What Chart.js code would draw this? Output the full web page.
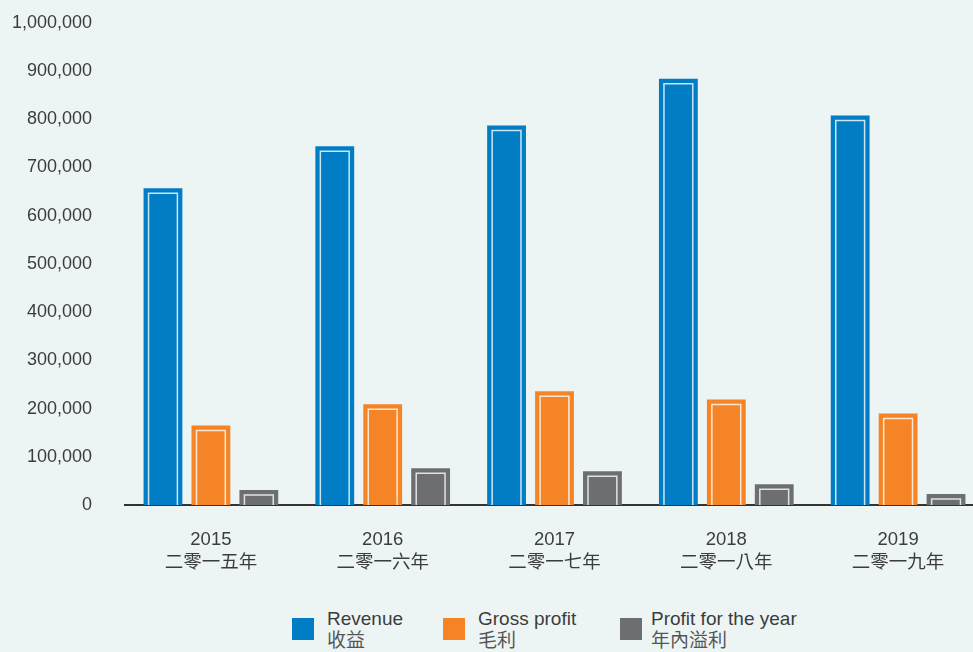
<!DOCTYPE html>
<html>
<head>
<meta charset="utf-8">
<script src="https://cdn.jsdelivr.net/npm/chart.js@4.4.1/dist/chart.umd.min.js"></script>
<style>
  html, body { margin: 0; padding: 0; background: #edf5f4; overflow: hidden; }
  body { width: 973px; height: 652px; position: relative; font-family: "Liberation Sans", Arial, "Noto Sans CJK TC", sans-serif; }
  #wrap { position: absolute; left: 0; top: -21px; width: 990px; height: 621px; }
  #legend { position: absolute; top: 608px; left: 0; width: 973px; }
  .swatch { position: absolute; top: 10px; width: 22px; height: 22px; }
  .txt { position: absolute; top: 0; white-space: nowrap; font-size: 19px; line-height: 22px; color: #3c3c3c; }
  .txt .zh { color: #555; }
</style>
</head>
<body>
<div id="wrap"><canvas id="financeChart"></canvas></div>
<div id="legend"></div>
<script>
// Five-year results, figures read in thousands
const years = ['2015', '2016', '2017', '2018', '2019'];
const yearsZh = ['二零一五年', '二零一六年', '二零一七年', '二零一八年', '二零一九年'];
const revenue = [657000, 744000, 787000, 884000, 808000];
const grossProfit = [165000, 209000, 236000, 219000, 190000];
const profitForYear = [31000, 76000, 70000, 43000, 23000];

const seriesNames = [['Revenue', '收益'], ['Gross profit', '毛利'], ['Profit for the year', '年內溢利']];
const seriesColors = ['#007dc5', '#f58426', '#6d6e71'];

const FONT = '"Liberation Sans", Arial, "Noto Sans CJK TC", sans-serif';

// thin white frame inset inside each bar
const innerFrame = {
  id: 'innerFrame',
  afterDatasetsDraw(chart) {
    const ctx = chart.ctx;
    ctx.save();
    ctx.strokeStyle = 'rgba(255,255,255,0.8)';
    ctx.lineWidth = 1.5;
    chart.data.datasets.forEach((ds, i) => {
      chart.getDatasetMeta(i).data.forEach(bar => {
        const left = bar.x - bar.width / 2 + 5;
        const w = bar.width - 10;
        const top = bar.y + 5;
        ctx.beginPath();
        ctx.moveTo(left, bar.base);
        ctx.lineTo(left, top);
        ctx.lineTo(left + w, top);
        ctx.lineTo(left + w, bar.base);
        ctx.stroke();
      });
    });
    ctx.restore();
  }
};

const datasets = [revenue, grossProfit, profitForYear].map((vals, i) => ({
  label: seriesNames[i].join(' '),
  data: vals,
  backgroundColor: seriesColors[i],
  borderWidth: 0,
  categoryPercentage: 0.837,
  barPercentage: 0.81
}));

new Chart(document.getElementById('financeChart'), {
  type: 'bar',
  data: {
    labels: years.map((y, i) => [y, yearsZh[i]]),
    datasets: datasets
  },
  options: {
    responsive: true,
    maintainAspectRatio: false,
    animation: false,
    layout: { padding: { top: 0, right: 6, left: 0, bottom: 0 } },
    plugins: {
      legend: { display: false },
      tooltip: { enabled: false }
    },
    scales: {
      x: {
        z: 1,
        grid: { display: false, drawTicks: false },
        border: { display: true, color: '#333333', width: 2 },
        ticks: {
          color: '#3c3c3c',
          padding: 23,
          font: { family: FONT, size: 18.5, lineHeight: 1.25 }
        },
        afterFit(scale) { scale.height = 95; }
      },
      y: {
        min: 0,
        max: 1000000,
        grid: { display: false, drawTicks: false },
        border: { display: false },
        ticks: {
          stepSize: 100000,
          color: '#3c3c3c',
          padding: 33,
          font: { family: FONT, size: 18 },
          callback: v => v.toLocaleString('en-US')
        },
        afterFit(scale) { scale.width = 125; }
      }
    }
  },
  plugins: [innerFrame]
});

// legend under the chart
const legendPos = [[292, 327], [443, 478], [620, 651]];
const legend = document.getElementById('legend');
seriesNames.forEach((names, i) => {
  const sw = document.createElement('div');
  sw.className = 'swatch';
  sw.style.left = legendPos[i][0] + 'px';
  sw.style.background = seriesColors[i];
  legend.appendChild(sw);
  const t = document.createElement('div');
  t.className = 'txt';
  t.style.left = legendPos[i][1] + 'px';
  t.innerHTML = names[0] + '<br><span class="zh">' + names[1] + '</span>';
  legend.appendChild(t);
});
</script>
</body>
</html>
